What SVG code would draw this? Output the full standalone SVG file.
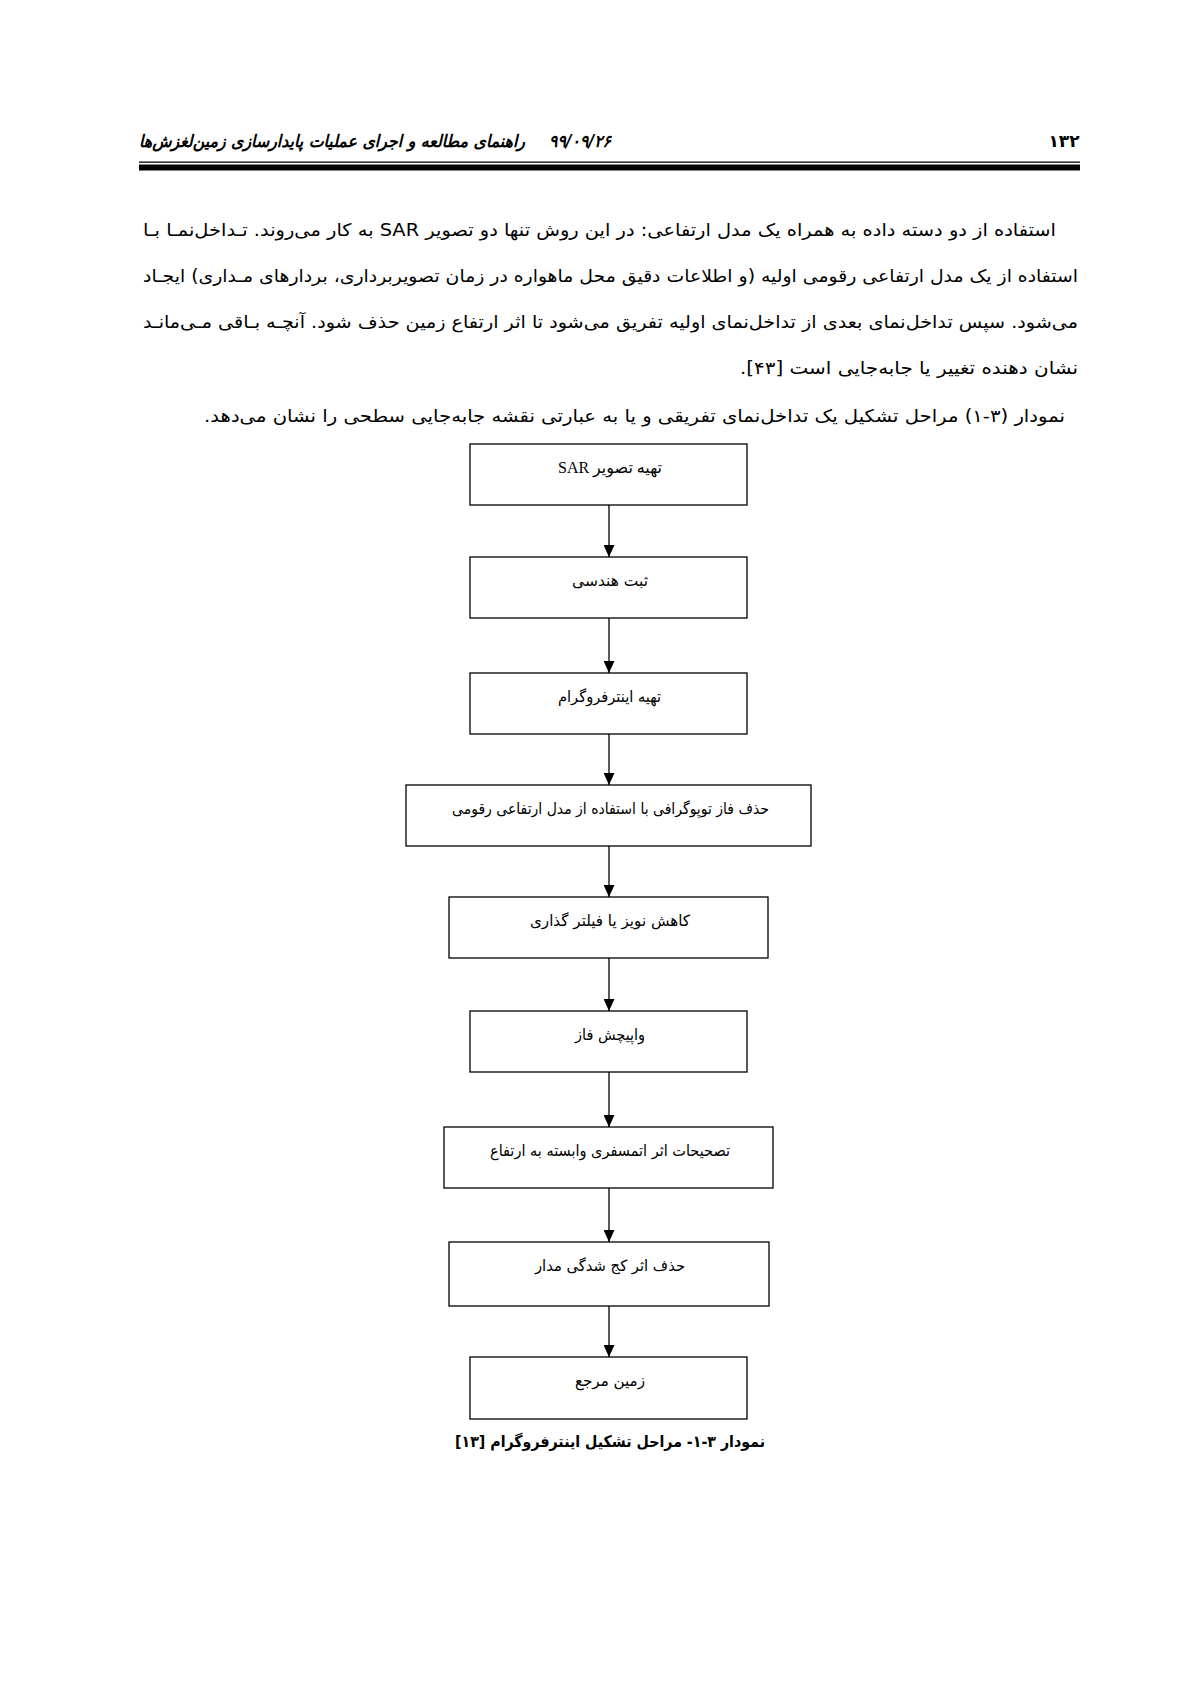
<svg xmlns="http://www.w3.org/2000/svg" width="1190" height="1684" viewBox="0 0 1190 1684">
<style>
text { direction: rtl; text-anchor: middle; fill: #000; }
.hdr { font-family: "DejaVu Sans", sans-serif; font-size: 17px; font-weight: bold; font-style: italic; }
.pg { font-family: "DejaVu Sans", sans-serif; font-size: 17px; font-weight: bold; }
.para { font-family: "DejaVu Sans", sans-serif; font-size: 17.5px; }
.lbl { font-family: "DejaVu Sans", sans-serif; font-size: 15.5px; }
.lbl-serif { font-family: "Liberation Serif", "DejaVu Sans", serif; font-size: 16px; }
.cap { font-family: "DejaVu Sans", sans-serif; font-size: 16px; font-weight: bold; }
.box { fill: #fff; stroke: #000; stroke-width: 1.3; }
.conn { stroke: #000; stroke-width: 1.3; fill: none; marker-end: url(#arr); }
</style>
<defs>
<marker id="arr" viewBox="0 0 12 11" refX="12" refY="5.5" markerWidth="12" markerHeight="11" markerUnits="userSpaceOnUse" orient="auto">
<path d="M0,0 L12,5.5 L0,11 z" fill="#000"/>
</marker>
</defs>
<rect width="1190" height="1684" fill="#fff"/>

<g id="header">
<text class="pg" x="1064" y="147">۱۳۲</text>
<text class="hdr" x="580" y="147" textLength="62" lengthAdjust="spacingAndGlyphs">۹۹/۰۹/۲۶</text>
<text class="hdr" x="332" y="147" textLength="386" lengthAdjust="spacingAndGlyphs">راهنمای مطالعه و اجرای عملیات پایدارسازی زمین‌لغزش‌ها</text>
<rect x="139" y="161.5" width="941" height="1.3" fill="#000"/>
<rect x="139" y="164.5" width="941" height="6" fill="#000"/>
</g>

<g id="paragraph">
<text class="para" x="599.5" y="236" textLength="913" lengthAdjust="spacingAndGlyphs">استفاده از دو دسته داده به همراه یک مدل ارتفاعی: در این روش تنها دو تصویر SAR به کار می‌روند. تـداخل‌نمـا بـا</text>
<text class="para" x="610.5" y="282" textLength="935" lengthAdjust="spacingAndGlyphs">استفاده از یک مدل ارتفاعی رقومی اولیه (و اطلاعات دقیق محل ماهواره در زمان تصویربرداری، بردارهای مـداری) ایجـاد</text>
<text class="para" x="610.5" y="328" textLength="935" lengthAdjust="spacingAndGlyphs">می‌شود. سپس تداخل‌نمای بعدی از تداخل‌نمای اولیه تفریق می‌شود تا اثر ارتفاع زمین حذف شود. آنچـه بـاقی مـی‌مانـد</text>
<text class="para" x="909" y="374" textLength="338" lengthAdjust="spacingAndGlyphs">نشان دهنده تغییر یا جابه‌جایی است [۴۳].</text>
<text class="para" x="634.5" y="422" textLength="861" lengthAdjust="spacingAndGlyphs">نمودار (۳-۱) مراحل تشکیل یک تداخل‌نمای تفریقی و یا به عبارتی نقشه جابه‌جایی سطحی را نشان می‌دهد.</text>
</g>

<g id="connectors">
<line class="conn" x1="609" y1="505" x2="609" y2="557"/>
<line class="conn" x1="609" y1="618" x2="609" y2="673"/>
<line class="conn" x1="609" y1="734" x2="609" y2="785"/>
<line class="conn" x1="609" y1="846" x2="609" y2="897"/>
<line class="conn" x1="609" y1="958" x2="609" y2="1011"/>
<line class="conn" x1="609" y1="1072" x2="609" y2="1127"/>
<line class="conn" x1="609" y1="1188" x2="609" y2="1242"/>
<line class="conn" x1="609" y1="1306" x2="609" y2="1357"/>
</g>

<g id="n1">
<rect class="box" x="470" y="444" width="277" height="61"/>
<text class="lbl-serif" x="610" y="473" textLength="104" lengthAdjust="spacingAndGlyphs">تهیه تصویر SAR</text>
</g>
<g id="n2">
<rect class="box" x="470" y="557" width="277" height="61"/>
<text class="lbl" x="610" y="586" textLength="76" lengthAdjust="spacingAndGlyphs">ثبت هندسی</text>
</g>
<g id="n3">
<rect class="box" x="470" y="673" width="277" height="61"/>
<text class="lbl" x="609.5" y="702" textLength="103" lengthAdjust="spacingAndGlyphs">تهیه اینترفروگرام</text>
</g>
<g id="n4">
<rect class="box" x="406" y="785" width="405" height="61"/>
<text class="lbl" x="610.5" y="814" textLength="317" lengthAdjust="spacingAndGlyphs">حذف فاز توپوگرافی با استفاده از مدل ارتفاعی رقومی</text>
</g>
<g id="n5">
<rect class="box" x="449" y="897" width="319" height="61"/>
<text class="lbl" x="610" y="926" textLength="160" lengthAdjust="spacingAndGlyphs">کاهش نویز یا فیلتر گذاری</text>
</g>
<g id="n6">
<rect class="box" x="470" y="1011" width="277" height="61"/>
<text class="lbl" x="610" y="1040" textLength="70" lengthAdjust="spacingAndGlyphs">واپیچش فاز</text>
</g>
<g id="n7">
<rect class="box" x="444" y="1127" width="329" height="61"/>
<text class="lbl" x="610" y="1156" textLength="240" lengthAdjust="spacingAndGlyphs">تصحیحات اثر اتمسفری وابسته به ارتفاع</text>
</g>
<g id="n8">
<rect class="box" x="449" y="1242" width="320" height="64"/>
<text class="lbl" x="610" y="1271" textLength="150" lengthAdjust="spacingAndGlyphs">حذف اثر کج شدگی مدار</text>
</g>
<g id="n9">
<rect class="box" x="470" y="1357" width="277" height="62"/>
<text class="lbl" x="610" y="1386" textLength="70" lengthAdjust="spacingAndGlyphs">زمین مرجع</text>
</g>

<g id="caption">
<text class="cap" x="610" y="1447" textLength="310" lengthAdjust="spacingAndGlyphs">نمودار ۳-۱- مراحل تشکیل اینترفروگرام [۱۳]</text>
</g>
</svg>
